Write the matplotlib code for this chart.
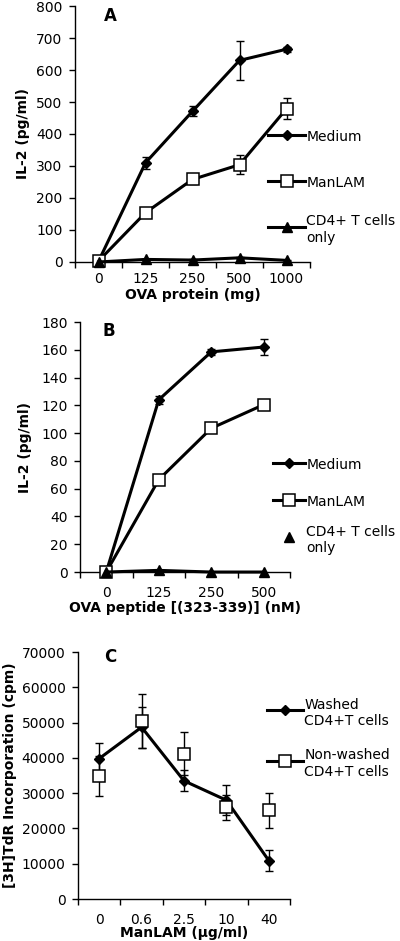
import numpy as np
import matplotlib
matplotlib.use("Agg")
import matplotlib.pyplot as plt

# ---- panel A: IL-2 vs OVA protein ----
a_cats = ["0", "125", "250", "500", "1000"]
a_medium = [2, 310, 471, 630, 665]
a_medium_err = [0, 19, 16, 62, 8]
a_manlam = [3, 154, 258, 304, 479]
a_manlam_err = [0, 8, 13, 29, 32]
a_cd4 = [0, 8, 6, 13, 5]
a_cd4_err = [0, 2, 2, 3, 2]

# ---- panel B: IL-2 vs OVA peptide ----
b_cats = ["0", "125", "250", "500"]
b_medium = [0, 124, 158.5, 162]
b_medium_err = [0, 3, 2, 6]
b_manlam = [0, 66.5, 103.5, 120.5]
b_manlam_err = [0, 1.5, 1.5, 2]
b_cd4 = [0, 1.2, 0, 0]

# ---- panel C: proliferation vs ManLAM ----
c_cats = ["0", "0.6", "2.5", "10", "40"]
c_washed = [39800, 48700, 33500, 28000, 10900]
c_washed_err = [4400, 5800, 3000, 4300, 3000]
c_nonwashed = [34900, 50500, 41200, 26000, 25100]
c_nonwashed_err = [5600, 7700, 6100, 3600, 4900]

FS = 10
LW = 2.2
DIAMOND = dict(marker="D", ms=5.5, color="k", mfc="k", mec="k")
SQUARE = dict(marker="s", ms=8.5, color="k", mfc="white", mec="k", mew=1.1)
TRIANGLE = dict(marker="^", ms=7.5, color="k", mfc="k", mec="k")


def setup_axes(ax, cats, ymax, ystep, xlabel, ylabel, letter, letter_pos,
               xlabel_y, ylabel_x, xpad=10):
    n = len(cats)
    ax.set_xlim(0, n)
    ax.set_ylim(0, ymax)
    ax.set_xticks(np.arange(n + 1))
    ax.set_xticklabels([])
    ax.set_xticks(np.arange(n) + 0.5, minor=True)
    ax.set_xticklabels(cats, minor=True, fontsize=FS)
    ax.tick_params(axis="x", which="major", direction="out", length=4, width=1)
    ax.tick_params(axis="x", which="minor", length=0, pad=xpad)
    ax.set_yticks(np.arange(0, ymax + ystep / 2, ystep))
    ax.tick_params(axis="y", direction="out", length=4, width=1, pad=5,
                   labelsize=FS)
    for side in ("top", "right"):
        ax.spines[side].set_visible(False)
    for side in ("left", "bottom"):
        ax.spines[side].set_linewidth(1)
    ax.set_xlabel(xlabel, fontsize=FS, fontweight="bold")
    ax.set_ylabel(ylabel, fontsize=FS, fontweight="bold")
    ax.xaxis.set_label_coords(0.5, xlabel_y)
    ax.yaxis.set_label_coords(ylabel_x, 0.5)
    ax.text(letter_pos[0], letter_pos[1], letter, transform=ax.transAxes,
            fontsize=12, fontweight="bold", ha="center", va="center")


def series(ax, y, err, style, line=True):
    x = np.arange(len(y)) + 0.5
    if err is not None:
        ax.errorbar(x, y, yerr=err, fmt="none", ecolor="k", elinewidth=1,
                    capsize=3, capthick=1, zorder=3, clip_on=False)
    ax.plot(x, y, lw=LW if line else 0, ls="-" if line else "none",
            zorder=4, clip_on=False, **style)


def legend_key(ax, y, x0, x1, label, style, line=True):
    if line:
        ax.plot([x0, x1], [y, y], transform=ax.transAxes, color="k", lw=LW,
                clip_on=False)
    ax.plot([(x0 + x1) / 2], [y], transform=ax.transAxes, ls="none",
            clip_on=False, **style)
    ax.text(x1 + 0.006, y, label, transform=ax.transAxes, fontsize=FS,
            ha="left", va="center_baseline")


fig = plt.figure(figsize=(4, 9.41), dpi=100)

# panel A
ax = fig.add_axes([0.1875, 0.7216, 0.5875, 0.272])
series(ax, a_medium, a_medium_err, DIAMOND)
series(ax, a_manlam, a_manlam_err, SQUARE)
series(ax, a_cd4, a_cd4_err, TRIANGLE)
setup_axes(ax, a_cats, 800, 100, "OVA protein (mg)", "IL-2 (pg/ml)", "A",
           (0.149, 0.961), -0.103, -0.19, xpad=7)
legend_key(ax, 0.496, 0.821, 0.979, "Medium", DIAMOND)
legend_key(ax, 0.316, 0.821, 0.979, "ManLAM", SQUARE)
legend_key(ax, 0.137, 0.821, 0.979, "CD4+ T cells\nonly", TRIANGLE)

# panel B
ax = fig.add_axes([0.2, 0.3921, 0.525, 0.2657])
series(ax, b_medium, b_medium_err, DIAMOND)
series(ax, b_manlam, b_manlam_err, SQUARE)
series(ax, b_cd4, None, TRIANGLE)
setup_axes(ax, b_cats, 180, 20, "OVA peptide [(323-339)] (nM)", "IL-2 (pg/ml)",
           "B", (0.138, 0.964), -0.116, -0.23)
legend_key(ax, 0.436, 0.919, 1.071, "Medium", DIAMOND)
legend_key(ax, 0.288, 0.919, 1.071, "ManLAM", SQUARE)
legend_key(ax, 0.140, 0.919, 1.071, "CD4+ T cells\nonly", TRIANGLE, line=False)

# panel C
ax = fig.add_axes([0.195, 0.0446, 0.53, 0.2625])
series(ax, c_washed, c_washed_err, DIAMOND)
series(ax, c_nonwashed, c_nonwashed_err, SQUARE, line=False)
setup_axes(ax, c_cats, 70000, 10000, "ManLAM (\u03bcg/ml)",
           "[3H]TdR Incorporation (cpm)", "C", (0.151, 0.98), -0.109, -0.29)
legend_key(ax, 0.765, 0.892, 1.061, "Washed\nCD4+T cells", DIAMOND)
legend_key(ax, 0.559, 0.892, 1.061, "Non-washed\nCD4+T cells", SQUARE)

fig.savefig("out.png", dpi=100)
